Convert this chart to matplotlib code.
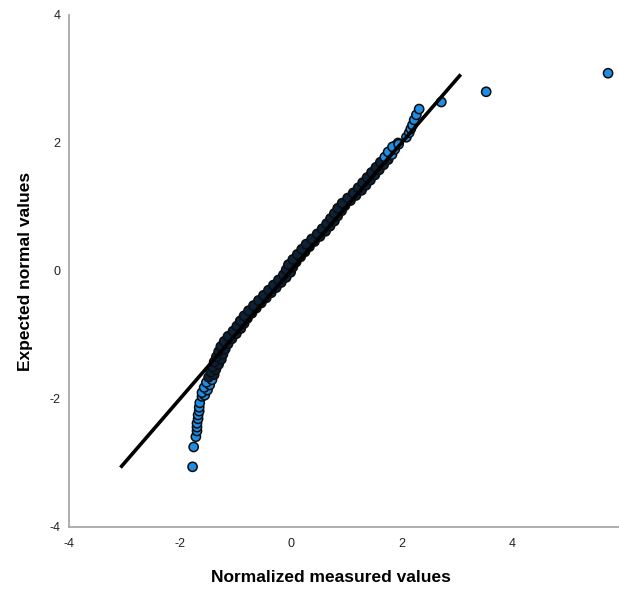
import matplotlib
matplotlib.use("Agg")
import matplotlib.pyplot as plt

plt.rcParams['font.family'] = ['Liberation Sans', 'DejaVu Sans']
plt.rcParams['axes.unicode_minus'] = False

# lower tail (sparse points)
tail_lo_x = [-1.77, -1.75, -1.71, -1.69, -1.69, -1.69, -1.67, -1.67, -1.65, -1.65, -1.64]
tail_lo_y = [-3.06, -2.75, -2.59, -2.50, -2.44, -2.38, -2.31, -2.25, -2.19, -2.13, -2.06]

# dense middle part of the curve
mid_y = [-1.96, -1.92, -1.88, -1.84, -1.80, -1.76, -1.72, -1.68, -1.64, -1.60,
         -1.56, -1.52, -1.48, -1.44, -1.40, -1.36, -1.32, -1.28, -1.24, -1.20,
         -1.16, -1.12, -1.08, -1.04, -1.00, -0.96, -0.92, -0.88, -0.84, -0.80,
         -0.76, -0.72, -0.68, -0.64, -0.60, -0.56, -0.52, -0.48, -0.44, -0.40,
         -0.36, -0.32, -0.28, -0.24, -0.20, -0.16, -0.12, -0.08, -0.04, 0.00,
         0.04, 0.08, 0.12, 0.16, 0.20, 0.24, 0.28, 0.32, 0.36, 0.40,
         0.44, 0.48, 0.52, 0.56, 0.60, 0.64, 0.68, 0.72, 0.76, 0.80,
         0.84, 0.88, 0.92, 0.96, 1.00, 1.04, 1.08, 1.12, 1.16, 1.20,
         1.24, 1.28, 1.32, 1.36, 1.40, 1.44, 1.48, 1.52, 1.56, 1.60,
         1.64, 1.68, 1.72, 1.76, 1.80, 1.84, 1.88, 1.92, 1.96, 2.00]
mid_x = [-1.60, -1.57, -1.55, -1.53, -1.51, -1.49, -1.47, -1.45, -1.43, -1.41,
         -1.39, -1.38, -1.36, -1.34, -1.31, -1.29, -1.28, -1.26, -1.24, -1.22,
         -1.19, -1.16, -1.13, -1.09, -1.06, -1.01, -0.97, -0.94, -0.90, -0.87,
         -0.84, -0.81, -0.77, -0.73, -0.69, -0.64, -0.60, -0.55, -0.51, -0.46,
         -0.42, -0.37, -0.33, -0.28, -0.24, -0.20, -0.15, -0.10, -0.06, -0.04,
         -0.02, 0.00, 0.03, 0.07, 0.11, 0.15, 0.19, 0.23, 0.27, 0.31,
         0.35, 0.40, 0.45, 0.50, 0.55, 0.60, 0.64, 0.68, 0.72, 0.75,
         0.78, 0.82, 0.85, 0.88, 0.91, 0.95, 1.00, 1.05, 1.10, 1.15,
         1.20, 1.25, 1.29, 1.33, 1.37, 1.41, 1.45, 1.49, 1.53, 1.57,
         1.61, 1.65, 1.69, 1.73, 1.76, 1.79, 1.82, 1.86, 1.90, 1.94]

# in-between points that widen the dense band
mid2_y = [-1.94, -1.90, -1.86, -1.82, -1.78, -1.74, -1.70, -1.66, -1.62, -1.58,
          -1.54, -1.50, -1.46, -1.42, -1.38, -1.34, -1.30, -1.26, -1.22, -1.18,
          -1.14, -1.10, -1.06, -1.02, -0.98, -0.94, -0.90, -0.86, -0.82, -0.78,
          -0.74, -0.70, -0.66, -0.62, -0.58, -0.54, -0.50, -0.46, -0.42, -0.38,
          -0.34, -0.30, -0.26, -0.22, -0.18, -0.14, -0.10, -0.06, -0.02, 0.02,
          0.06, 0.10, 0.14, 0.18, 0.22, 0.26, 0.30, 0.34, 0.38, 0.42,
          0.46, 0.50, 0.54, 0.58, 0.62, 0.66, 0.70, 0.74, 0.78, 0.82,
          0.86, 0.90, 0.94, 0.98, 1.02, 1.06, 1.10, 1.14, 1.18, 1.22,
          1.26, 1.30, 1.34, 1.38, 1.42, 1.46, 1.50, 1.54, 1.58, 1.62,
          1.66, 1.70, 1.74, 1.78, 1.82, 1.86, 1.90, 1.94, 1.98]
mid2_x = [-1.55, -1.60, -1.50, -1.56, -1.46, -1.52, -1.42, -1.48, -1.38, -1.44,
          -1.35, -1.41, -1.30, -1.38, -1.25, -1.34, -1.22, -1.30, -1.18, -1.26,
          -1.13, -1.20, -1.06, -1.13, -0.98, -1.04, -0.90, -0.97, -0.84, -0.91,
          -0.78, -0.84, -0.70, -0.76, -0.62, -0.67, -0.53, -0.58, -0.44, -0.49,
          -0.35, -0.40, -0.26, -0.31, -0.17, -0.22, -0.08, -0.13, 0.00, -0.08,
          0.04, -0.04, 0.10, 0.04, 0.18, 0.12, 0.26, 0.20, 0.34, 0.28,
          0.43, 0.38, 0.53, 0.48, 0.63, 0.57, 0.71, 0.65, 0.79, 0.72,
          0.85, 0.79, 0.92, 0.85, 0.98, 0.93, 1.08, 1.03, 1.18, 1.13,
          1.28, 1.22, 1.36, 1.30, 1.44, 1.38, 1.52, 1.46, 1.60, 1.54,
          1.68, 1.62, 1.76, 1.70, 1.83, 1.76, 1.88, 1.84, 1.95]

# upper tail and outliers
tail_hi_x = [2.09, 2.14, 2.17, 2.20, 2.23, 2.27, 2.32, 2.72, 3.53, 5.73]
tail_hi_y = [2.09, 2.16, 2.22, 2.28, 2.36, 2.44, 2.53, 2.64, 2.80, 3.09]

# reference line
ref_x = [-3.05, 3.05]
ref_y = [-3.05, 3.05]

xs = tail_lo_x + mid_x + mid2_x + tail_hi_x
ys = tail_lo_y + mid_y + mid2_y + tail_hi_y

# where points pile up the edges dominate, so the band looks almost black
colors = []
for y in ys:
    if -1.7 < y < 1.75:
        colors.append('#0c2238')
    else:
        colors.append('#1f8de4')

fig = plt.figure(figsize=(6.19, 5.90), dpi=100)
ax = fig.add_axes([0.1115, 0.1068, 0.895, 0.8678])

ax.scatter(xs, ys, s=44, c=colors, edgecolors='#0d0d0d', linewidths=1.1, zorder=2)
ax.plot(ref_x, ref_y, color='black', lw=2.6, zorder=3)

ax.set_xlim(-4, 6)
ax.set_ylim(-4, 4)
ax.set_xticks([-4, -2, 0, 2, 4, 6])
ax.set_yticks([-4, -2, 0, 2, 4])
ax.tick_params(length=0, labelsize=9, colors='#222222')
ax.tick_params(axis='x', pad=8)
ax.tick_params(axis='y', pad=6)

for s in ['top', 'right']:
    ax.spines[s].set_visible(False)
for s in ['left', 'bottom']:
    ax.spines[s].set_color('#a8a8a8')
    ax.spines[s].set_linewidth(1.3)

ax.set_xlabel('Normalized measured values', fontsize=12.5, fontweight='bold', labelpad=14)
ax.xaxis.label.set_x(0.473)
ax.set_ylabel('Expected normal values', fontsize=12.5, fontweight='bold', labelpad=12)

fig.savefig('out.png', dpi=100)
